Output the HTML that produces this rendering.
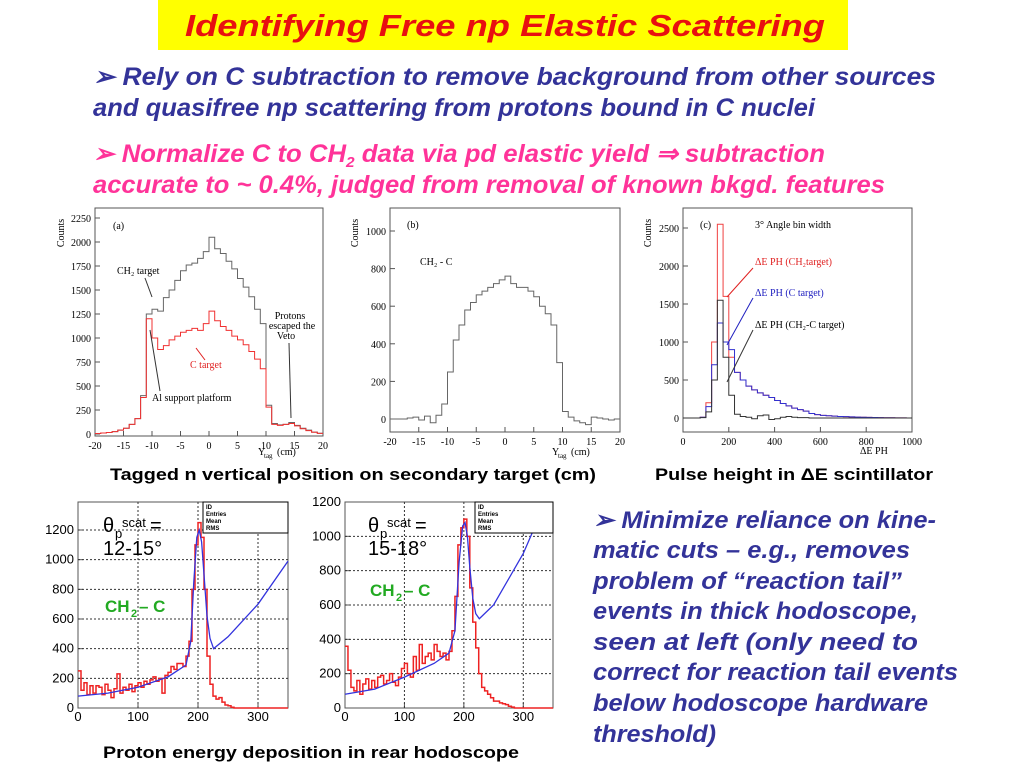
<!DOCTYPE html>
<html><head><meta charset="utf-8"><style>
html,body{margin:0;padding:0;background:#fff;width:1024px;height:768px;overflow:hidden}
svg{display:block}
.s{font-family:"Liberation Serif",serif;font-size:10px}
.b{font-family:"Liberation Sans",sans-serif;font-weight:bold;font-style:italic}
.r{font-family:"Liberation Sans",sans-serif;font-size:13px}
</style></head><body>
<svg id="page" width="1024" height="768" xmlns="http://www.w3.org/2000/svg">
<rect x="158" y="0" width="690" height="50" fill="#ffff00"/>
<text class="b" x="185" y="36" style="font-size:31px" fill="#e81010" textLength="640" lengthAdjust="spacingAndGlyphs">Identifying Free np Elastic Scattering</text>
<text class="b" x="93" y="85" style="font-size:25px" fill="#333399" textLength="843" lengthAdjust="spacingAndGlyphs">➢ Rely on C subtraction to remove background from other sources</text>
<text class="b" x="93" y="116" style="font-size:25px" fill="#333399" textLength="722" lengthAdjust="spacingAndGlyphs">and quasifree np scattering from protons bound in C nuclei</text>
<text class="b" x="93" y="162" style="font-size:25px" fill="#ff3399" textLength="732" lengthAdjust="spacingAndGlyphs">➢ Normalize C to CH<tspan style="font-size:15px" dy="5">2</tspan><tspan dy="-5"> data via pd elastic yield ⇒ subtraction</tspan></text>
<text class="b" x="93" y="193" style="font-size:25px" fill="#ff3399" textLength="792" lengthAdjust="spacingAndGlyphs">accurate to ~ 0.4%, judged from removal of known bkgd. features</text>

<text x="110" y="480" font-family="Liberation Sans,sans-serif" font-weight="bold" style="font-size:17px" textLength="486" lengthAdjust="spacingAndGlyphs">Tagged n vertical position on secondary target (cm)</text>
<text x="655" y="480" font-family="Liberation Sans,sans-serif" font-weight="bold" style="font-size:17px" textLength="278" lengthAdjust="spacingAndGlyphs">Pulse height in ΔE scintillator</text>
<text x="103" y="758" font-family="Liberation Sans,sans-serif" font-weight="bold" style="font-size:17px" textLength="416" lengthAdjust="spacingAndGlyphs">Proton energy deposition in rear hodoscope</text>

<g class="b" style="font-size:24px" fill="#333399">
<text x="593" y="528" textLength="343" lengthAdjust="spacingAndGlyphs">➢ Minimize reliance on kine-</text>
<text x="593" y="558" textLength="317" lengthAdjust="spacingAndGlyphs">matic cuts – e.g., removes</text>
<text x="593" y="589" textLength="309" lengthAdjust="spacingAndGlyphs">problem of “reaction tail”</text>
<text x="593" y="619" textLength="325" lengthAdjust="spacingAndGlyphs">events in thick hodoscope,</text>
<text x="593" y="650" textLength="325" lengthAdjust="spacingAndGlyphs">seen at left (only need to</text>
<text x="593" y="680" textLength="365" lengthAdjust="spacingAndGlyphs">correct for reaction tail events</text>
<text x="593" y="711" textLength="335" lengthAdjust="spacingAndGlyphs">below hodoscope hardware</text>
<text x="593" y="742" textLength="123" lengthAdjust="spacingAndGlyphs">threshold)</text>
</g>
<g id="charts"></g>
</svg>
<script>
// ---- data (a): Ytag bins -20..19 (1 cm) ----
const aBins=[-20,-19,-18,-17,-16,-15,-14,-13,-12,-11,-10,-9,-8,-7,-6,-5,-4,-3,-2,-1,0,1,2,3,4,5,6,7,8,9,10,11,12,13,14,15,16,17,18,19];
const aCH2=[5,10,15,25,40,60,100,160,400,1250,1300,1280,1420,1500,1600,1700,1760,1780,1830,1900,2050,1930,1880,1800,1720,1620,1530,1430,1300,1150,300,110,95,100,120,90,60,40,20,8];
const aC=[5,10,15,25,40,60,100,160,380,1200,1000,880,920,980,1020,1060,1080,1100,1080,1150,1280,1180,1120,1080,1020,980,930,860,780,680,280,100,90,100,110,85,55,35,18,7];
const aXTicks=[-20,-15,-10,-5,0,5,10,15,20];
const aYTicks=[0,250,500,750,1000,1250,1500,1750,2000,2250];
// ---- data (b) ----
const bDiff=[0,0,0,5,10,-5,15,-20,20,80,250,420,500,580,620,660,680,700,720,740,760,720,700,700,680,650,600,560,500,300,40,10,-10,-20,-30,10,5,0,-5,0];
const bYTicks=[0,200,400,600,800,1000];
// ---- data (c): dE PH bins of 25 from 0 ----
const cBins=[0,25,50,75,100,125,150,175,200,225,250,275,300,325,350,375,400,425,450,475,500,525,550,575,600,625,650,675,700,725,750,775,800,825,850,875,900,925,950,975];
const cCH2=[0,0,0,10,200,1000,2550,1600,800,600,500,420,370,330,300,270,230,190,160,130,110,90,60,45,35,30,25,20,18,15,12,10,8,6,5,4,3,2,1,0];
const cC=[0,0,0,10,150,700,1250,1000,900,600,500,420,370,330,300,270,230,190,160,130,110,90,60,45,35,30,25,20,18,15,12,10,8,6,5,4,3,2,1,0];
const cDiff=[0,0,0,5,80,500,1550,800,300,50,20,10,-10,30,40,-20,-10,10,20,10,5,5,0,0,0,0,0,0,0,0,0,0,0,0,0,0,0,0,0,0];
const cXTicks=[0,200,400,600,800,1000];
const cYTicks=[0,500,1000,1500,2000,2500];
// ---- bottom left/right: bins of 5 from 0 ----
const hLeft=[250,120,170,90,150,100,150,140,90,160,120,70,130,230,100,140,120,160,110,150,170,140,180,160,190,210,180,200,100,220,240,280,260,300,300,280,350,450,800,1100,1250,1150,800,350,160,80,60,70,40,20,15,5,0,0,0,0,0,0,0,0,0,0,0,0,0,0,0,0,0,0];
const fitLeftX=[0,50,100,150,180,188,193,198,202,206,210,215,220,226,250,300,350];
const fitLeftY=[80,100,140,210,290,450,850,1150,1200,1120,900,620,470,400,480,700,990];
const hRight=[360,220,120,100,160,80,140,170,110,160,120,180,190,140,160,200,150,130,180,230,260,200,180,300,220,370,260,300,320,280,370,330,300,320,280,330,450,650,950,1050,1100,1000,700,500,350,200,120,100,80,60,40,40,30,25,20,10,5,0,0,0,0,0,0,0,0,0,0,0,0,0];
const fitRightX=[0,50,100,150,175,185,192,198,202,206,210,215,220,226,250,300,320,340];
const fitRightY=[80,110,180,260,320,450,850,1060,1080,1000,820,640,550,520,600,900,1060,1200];
const bXTicks=[0,100,200,300];
const bYTicks2=[0,200,400,600,800,1000,1200];

const NS='http://www.w3.org/2000/svg';
const root=document.getElementById('charts');
function mk(tag,at,parent){const e=document.createElementNS(NS,tag);for(const k in at)e.setAttribute(k,at[k]);(parent||root).appendChild(e);return e;}
function txt(s,x,y,cls,parent,anchor,fill,size){const t=mk('text',{x:x,y:y,'class':cls,'text-anchor':anchor||'middle',fill:fill||'#000'},parent);if(size)t.style.fontSize=size+'px';t.textContent=s;return t;}
function lin(x0,x1,d0,d1){return v=>x0+(v-d0)*(x1-x0)/(d1-d0);}
function histPath(bins,w,vals,sx,sy){let d='';for(let i=0;i<vals.length;i++){const xa=sx(bins[i]),xb=sx(bins[i]+w),y=sy(vals[i]);d+=(i?'L':'M')+xa+','+y+'L'+xb+','+y;}return d;}

function panel(name,x0,x1,top,bot,dx0,dx1,y0px,yTopPx,yTopVal,xt,yt,cls,rot){
  const g=mk('g',{});
  
  
  const sx=lin(x0,x1,dx0,dx1), sy=lin(y0px,yTopPx,0,yTopVal);
  const fr=mk('rect',{x:x0,y:top,width:x1-x0,height:bot-top,fill:'none',stroke:'#555','stroke-width':1},g);
  
  
  xt.forEach(v=>{mk('line',{x1:sx(v),x2:sx(v),y1:bot,y2:bot-5,stroke:'#555'},g);const t=txt(String(v),sx(v),bot+13,cls,g);
    
    });
  yt.forEach(v=>{mk('line',{x1:x0,x2:x0+5,y1:sy(v),y2:sy(v),stroke:'#555'},g);const t=txt(String(v),x0-4,sy(v)+4,cls,g,'end');
    
    });
  if(rot){const t=txt('Counts',0,0,cls,g);t.setAttribute('transform','translate('+rot+','+(top+25)+') rotate(-90)');
    
    }
  return {g,sx,sy};
}
// (a)
let A=panel('chart-a',95,323,208,436,-20,20,434,218,2250,aXTicks,aYTicks,'s',64);
let p=mk('path',{d:histPath(aBins,1,aCH2,A.sx,A.sy),fill:'none',stroke:'#666','stroke-width':1},A.g);


p=mk('path',{d:histPath(aBins,1,aC,A.sx,A.sy),fill:'none',stroke:'#f03030','stroke-width':1},A.g);


txt('(a)',113,229,'s',A.g,'start');
txt('CH₂ target',117,274,'s',A.g,'start');
txt('Protons',290,319,'s',A.g);txt('escaped the',292,329,'s',A.g);txt('Veto',286,339,'s',A.g);
txt('C target',190,368,'s',A.g,'start','#e02020');
txt('Al support platform',152,401,'s',A.g,'start');
txt('Y',258,455,'s',A.g,'start');txt('tag',264,458,'s',A.g,'start','#000',7);txt('(cm)',277,455,'s',A.g,'start');
mk('line',{x1:145,y1:278,x2:152,y2:297,stroke:'#333'},A.g);
mk('line',{x1:160,y1:391,x2:150,y2:330,stroke:'#333'},A.g);
mk('line',{x1:205,y1:360,x2:196,y2:348,stroke:'#e02020'},A.g);
mk('line',{x1:289,y1:343,x2:291,y2:418,stroke:'#333'},A.g);
// (b)
let B=panel('chart-b',390,620,208,432,-20,20,419,231,1000,aXTicks,bYTicks,'s',358);
p=mk('path',{d:histPath(aBins,1,bDiff,B.sx,B.sy),fill:'none',stroke:'#666','stroke-width':1},B.g);


txt('(b)',407,228,'s',B.g,'start');txt('CH₂ - C',420,265,'s',B.g,'start');
txt('Y',552,455,'s',B.g,'start');txt('tag',558,458,'s',B.g,'start','#000',7);txt('(cm)',571,455,'s',B.g,'start');
// (c)
let C=panel('chart-c',683,912,208,432,0,1000,418,228,2500,cXTicks,cYTicks,'s',651);
[[cCH2,'#f04040','series-ch2'],[cC,'#3030d0','series-c'],[cDiff,'#333','series-ch2-minus-c']].forEach(s=>{
  const q=mk('path',{d:histPath(cBins,25,s[0],C.sx,C.sy),fill:'none',stroke:s[1],'stroke-width':1},C.g);
  
  });
txt('(c)',700,228,'s',C.g,'start');txt('3° Angle bin width',755,228,'s',C.g,'start');
txt('ΔE PH (CH₂target)',755,265,'s',C.g,'start','#e02020');
txt('ΔE PH (C target)',755,296,'s',C.g,'start','#2020c0');
txt('ΔE PH (CH₂-C target)',755,328,'s',C.g,'start');
txt('ΔE PH',860,454,'s',C.g,'start');
mk('line',{x1:753,y1:268,x2:727,y2:297,stroke:'#e02020'},C.g);
mk('line',{x1:753,y1:298,x2:727,y2:345,stroke:'#2020c0'},C.g);
mk('line',{x1:753,y1:330,x2:727,y2:382,stroke:'#333'},C.g);
// bottom
function bottom(name,x0,x1,y0px,yTopPx,hist,fx,fy,label,labx,chy,stats){
  const P=panel(name,x0,x1,502,708,0,350,y0px,yTopPx,1200,bXTicks,bYTicks2,'r',0);
  bXTicks.forEach(v=>{if(v>0)mk('line',{x1:P.sx(v),x2:P.sx(v),y1:502,y2:708,stroke:'#333','stroke-dasharray':'2,2'},P.g);});
  bYTicks2.forEach(v=>{if(v>0&&P.sy(v)>502)mk('line',{x1:x0,x2:x1,y1:P.sy(v),y2:P.sy(v),stroke:'#333','stroke-dasharray':'2,2'},P.g);});
  const bins=hist.map((_,i)=>i*5);
  let q=mk('path',{d:histPath(bins,5,hist,P.sx,P.sy),fill:'none',stroke:'#ee2222','stroke-width':1.5},P.g);
  
  
  q=mk('polyline',{points:fx.map((v,i)=>P.sx(v)+','+Math.max(502,P.sy(fy[i]))).join(' '),fill:'none',stroke:'#3333dd','stroke-width':1.3},P.g);
  
  
  const sb=mk('rect',{x:stats,y:502,width:x1-stats,height:31,fill:'#fff',stroke:'#000'},P.g);
  
  
  ['ID','Entries','Mean','RMS'].forEach((s,i)=>{const t=txt(s,stats+3,509+i*7,'r',P.g,'start','#000',6);t.setAttribute('font-weight','bold');});
  txt('θ',labx,532,'r',P.g,'start','#000',20);txt('p',labx+12,538,'r',P.g,'start','#000',13);txt('scat',labx+19,527,'r',P.g,'start','#000',13);txt('=',labx+47,532,'r',P.g,'start','#000',20);
  txt(label,labx,555,'r',P.g,'start','#000',20);
  const ch=txt('CH',labx+2,chy,'r',P.g,'start','#22aa22',17);ch.setAttribute('font-weight','bold');
  const c2=txt('2',labx+28,chy+5,'r',P.g,'start','#22aa22',11);c2.setAttribute('font-weight','bold');
  const c3=txt('– C',labx+36,chy,'r',P.g,'start','#22aa22',17);c3.setAttribute('font-weight','bold');
}
bottom('chart-bottom-left',78,288,708,530,hLeft,fitLeftX,fitLeftY,'12-15°',103,612,203);
bottom('chart-bottom-right',345,553,708,502,hRight,fitRightX,fitRightY,'15-18°',368,596,475);
</script>
</body></html>
